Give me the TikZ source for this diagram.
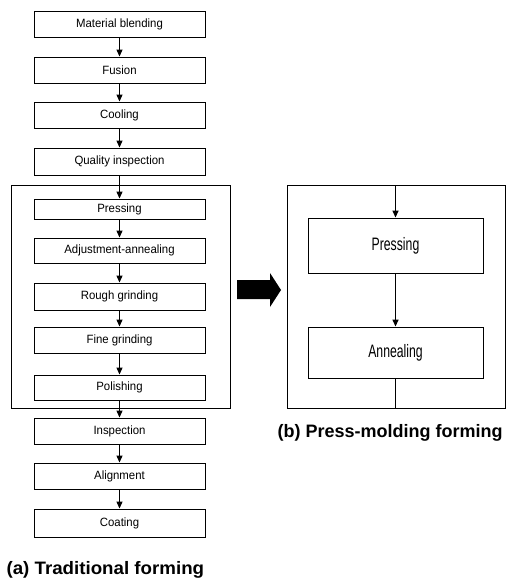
\documentclass[tikz,border=0pt]{standalone}
\usepackage{fontspec}
\usepackage{graphicx}
\setmainfont{Liberation Sans}
\usetikzlibrary{arrows.meta}
\newcommand{\nar}[2][0.95]{\scalebox{#1}[1]{#2}}
\begin{document}
\begin{tikzpicture}[x=1pt,y=-1pt,
  sbox/.style={draw,line width=0.9pt,minimum width=171pt,inner sep=0pt,font=\fontsize{12}{14}\selectfont},
  bbox/.style={draw,line width=0.9pt,minimum width=175pt,inner sep=0pt,font=\fontsize{18}{21}\selectfont},
  frame/.style={draw,line width=0.9pt},
  conn/.style={line width=1.1pt,-{Triangle[length=7pt,width=6pt]}},
  captext/.style={font=\fontsize{18}{21}\selectfont\bfseries}]
\useasboundingbox (0,0) rectangle (507,583);
% left frame
\draw[frame] (11,185) rectangle (230,408);
% left boxes
\node[sbox,minimum height=26pt] (b1) at (119.5,24) {\nar{Material blending}};
\node[sbox,minimum height=26pt] (b2) at (119.5,70) {\nar{Fusion}};
\node[sbox,minimum height=26pt] (b3) at (119.5,115) {\nar{Cooling}};
\node[sbox,minimum height=27pt] (b4) at (119.5,161.5) {\nar{Quality inspection}};
\node[sbox,minimum height=20pt] (b5) at (119.5,209) {\nar{Pressing}};
\node[sbox,minimum height=25pt] (b6) at (119.5,250.5) {\nar{Adjustment-annealing}};
\node[sbox,minimum height=27pt] (b7) at (119.5,296.5) {\nar{Rough grinding}};
\node[sbox,minimum height=26pt] (b8) at (119.5,340) {\nar{Fine grinding}};
\node[sbox,minimum height=25pt] (b9) at (119.5,387.5) {\nar{Polishing}};
\node[sbox,minimum height=26pt] (b10) at (119.5,431) {\nar{Inspection}};
\node[sbox,minimum height=26pt] (b11) at (119.5,476) {\nar{Alignment}};
\node[sbox,minimum height=28pt] (b12) at (119.5,523) {\nar{Coating}};
\foreach \a/\b in {b1/b2,b2/b3,b3/b4,b4/b5,b5/b6,b6/b7,b7/b8,b8/b9,b9/b10,b10/b11,b11/b12}
  \draw[conn] (\a) -- (\b);
% big arrow
\fill (237,280) -- (270,280) -- (270,273) -- (281,290) -- (270,307) -- (270,299) -- (237,299) -- cycle;
% right frame
\draw[frame] (287,185) rectangle (505,408);
\node[bbox,minimum height=55pt] (p) at (395.5,245.5) {\nar[0.68]{Pressing}};
\node[bbox,minimum height=51pt] (an) at (395.5,352.5) {\nar[0.68]{Annealing}};
\coordinate (top) at (395.5,185);
\coordinate (bot) at (395.5,408);
\draw[conn,line width=1.4pt] (top) -- (p);
\draw[conn,line width=1.4pt] (p) -- (an);
\draw[line width=0.9pt] (an) -- (bot);
% captions
\node[captext,anchor=west] (ca) at (3,570) {\nar[1.04]{(a) Traditional forming}};
\node[captext,anchor=west] (cb) at (274,433) {\nar[1.0]{(b) Press-molding forming}};
\end{tikzpicture}
\end{document}
